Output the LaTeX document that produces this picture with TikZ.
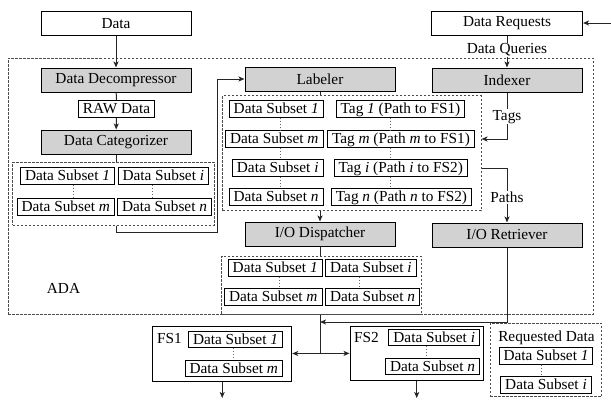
\documentclass[tikz,border=0pt]{standalone}
\usepackage{fontspec}
\setmainfont{Liberation Serif}
\newfontfamily\tnrfont{Liberation Serif}
\usetikzlibrary{arrows.meta,calc}

\begin{document}
\begin{tikzpicture}[-,>={Stealth[length=6pt,width=5pt,inset=1.5pt]},x=1pt,y=-1pt,
                    line width=1pt,font=\tnrfont\fontsize{15.3}{18}\selectfont]
    \tikzset{proc/.style={draw=black,fill=gray!35,minimum width=150pt,
                          minimum height=24pt,inner sep=0pt},
             io/.style={draw=black,fill=white,minimum width=150pt,
                        minimum height=24pt,inner sep=0pt},
             sub/.style={draw=black,fill=white,inner xsep=4.5pt,inner ysep=2.2pt,
                         text height=10.5pt,text depth=1.5pt},
             grp/.style={draw=gray!60!black,dash pattern=on 2.5pt off 1.5pt,
                         inner sep=0pt},
             fsbox/.style={draw=black,inner sep=0pt},
             lbl/.style={fill=white,inner sep=1pt},
             ellip/.style={dotted,draw=gray!80!black},
             conn/.style={draw=black!85}}
    \useasboundingbox (0,0) rectangle (611,400);
    % outer frame
    \node[grp,minimum width=585pt,minimum height=256pt] (ada) at (300.5,186) {};
    \node (adalbl) at (63.5,288.5) {ADA};
    % inputs
    \node[io] (data) at (116,23.5) {Data};
    \node[io,minimum width=151pt] (req) at (507,23) {Data Requests};
    \coordinate (usr) at (611,23);
    % left column
    \node[proc] (dec) at (116,80) {Data Decompressor};
    \node[sub] (raw) at (116.5,109) {RAW Data};
    \node[proc] (cat) at (116,142) {Data Categorizer};
    \node[grp,minimum width=201.6pt,minimum height=62.7pt] (cg) at (113.5,193.7) {};
    \node[sub,anchor=east] (c1) at (115,176) {Data Subset \textit{1}};
    \node[sub,anchor=west] (ci) at (117.5,176) {Data Subset \textit{i}};
    \node[sub,anchor=east] (cm) at (115,207) {Data Subset \textit{m}};
    \node[sub,anchor=west] (cn) at (117,207) {Data Subset \textit{n}};
    % labeler
    \node[proc] (lab) at (320,79) {Labeler};
    \node[proc] (idx) at (507,80) {Indexer};
    \node[grp,minimum width=258.3pt,minimum height=115pt] (lg) at (351.85,153.2) {};
    \node[sub,anchor=east] (l1) at (323.7,109) {Data Subset \textit{1}};
    \node[sub] (t1) at (400.5,109) {Tag \textit{1} (Path to FS1)};
    \node[sub,anchor=east] (lm) at (323.5,139) {Data Subset \textit{m}};
    \node[sub] (tm) at (401,139) {Tag \textit{m} (Path \textit{m} to FS1)};
    \node[sub,anchor=east] (li) at (323.5,168) {Data Subset \textit{i}};
    \node[sub] (ti) at (400.7,168) {Tag \textit{i} (Path \textit{i} to FS2)};
    \node[sub,anchor=east] (ln) at (323.5,197) {Data Subset \textit{n}};
    \node[sub] (tn) at (401.5,197) {Tag \textit{n} (Path \textit{n} to FS2)};
    % dispatcher, retriever
    \node[proc] (dsp) at (320,234) {I/O Dispatcher};
    \node[proc] (ret) at (507,235) {I/O Retriever};
    \node[grp,minimum width=199.3pt,minimum height=58pt] (dg) at (321.35,285) {};
    \node[sub,anchor=east] (d1) at (322.7,268) {Data Subset \textit{1}};
    \node[sub,anchor=west] (di) at (325,268) {Data Subset \textit{i}};
    \node[sub,anchor=east] (dm) at (322.5,297) {Data Subset \textit{m}};
    \node[sub,anchor=west] (dn) at (325,297) {Data Subset \textit{n}};
    % file systems
    \node[fsbox,minimum width=139pt,minimum height=55pt] (fs1) at (222.2,353.5) {};
    \node (fs1lbl) at (169.5,338.5) {FS1};
    \node[sub,anchor=east] (f1) at (283,339.5) {Data Subset \textit{1}};
    \node[sub,anchor=east] (fm) at (283,368.5) {Data Subset \textit{m}};
    \node[fsbox,minimum width=133.3pt,minimum height=54.7pt] (fs2) at (416.7,353.4) {};
    \node (fs2lbl) at (366.5,338) {FS2};
    \node[sub,anchor=east] (f2i) at (480,337.5) {Data Subset \textit{i}};
    \node[sub,anchor=east] (f2n) at (480,366.7) {Data Subset \textit{n}};
    \coordinate (o1) at (222.2,398);
    \coordinate (o2) at (416.7,398);
    % requested data
    \node[grp,minimum width=111.7pt,minimum height=73.4pt] (rq) at (545.85,360) {};
    \node (rqlbl) at (546.5,338.3) {Requested Data};
    \node[sub] (r1) at (546,355.8) {Data Subset \textit{1}};
    \node[sub] (ri) at (546,385) {Data Subset \textit{i}};
    % vertical dots
    \draw[ellip] (c1.south -| 73,0) -- (cm.north -| 73,0);
    \draw[ellip] (ci.south -| 152,0) -- (cn.north -| 152,0);
    \foreach \a/\b in {l1/lm,lm/li,li/ln}
        \draw[ellip] (\a.south -| 280,0) -- (\b.north -| 280,0);
    \foreach \a/\b in {t1/tm,tm/ti,ti/tn}
        \draw[ellip] (\a.south -| 390.7,0) -- (\b.north -| 390.7,0);
    \draw[ellip] (d1.south -| 279.3,0) -- (dm.north -| 279.3,0);
    \draw[ellip] (di.south -| 359,0) -- (dn.north -| 359,0);
    \draw[ellip] (f1.south -| 233,0) -- (fm.north -| 233,0);
    \draw[ellip] (f2i.south -| 426,0) -- (f2n.north -| 426,0);
    \draw[ellip] (r1.south -| 541,0) -- (ri.north -| 541,0);
    % connectors
    \draw[conn,->] (data) -- (dec);
    \draw[conn] (dec) -- (raw);
    \draw[conn,->] (raw) -- (cat);
    \draw[conn] (cat.south) -- (cat.south |- cg.north);
    \draw[conn,->] (cat.south |- cg.south) -- ++(0,7) -| ([xshift=-27pt]lab.west) -- (lab.west);
    \draw[conn] (lab) -- (lab.south |- lg.north);
    \draw[conn,->] (lab.south |- lg.south) -- (dsp);
    \draw[conn] (dsp) -- (dsp.south |- dg.north);
    \draw[conn,->] (dsp.south |- dg.south) |- (fs1.east);
    \draw[conn,->] (dsp.south |- dg.south) |- (fs2.west);
    \draw[conn,->] (usr) -- (req);
    \draw[conn,->] (req) -- node[lbl,pos=0.45]{Data Queries} (idx);
    \draw[conn,->] (idx) |- node[lbl,pos=0.26]{Tags} (lg.east |- tm);
    \draw[conn,->] (lg.east |- ti) -| node[lbl,pos=0.77]{Paths} (ret);
    \draw[conn,->] (ret) |- ($(dsp.south |- dg.south)+(0,7.5)$);
    \draw[conn,->] (fs1) -- (o1);
    \draw[conn,->] (fs2) -- (o2);
\end{tikzpicture}
\end{document}
